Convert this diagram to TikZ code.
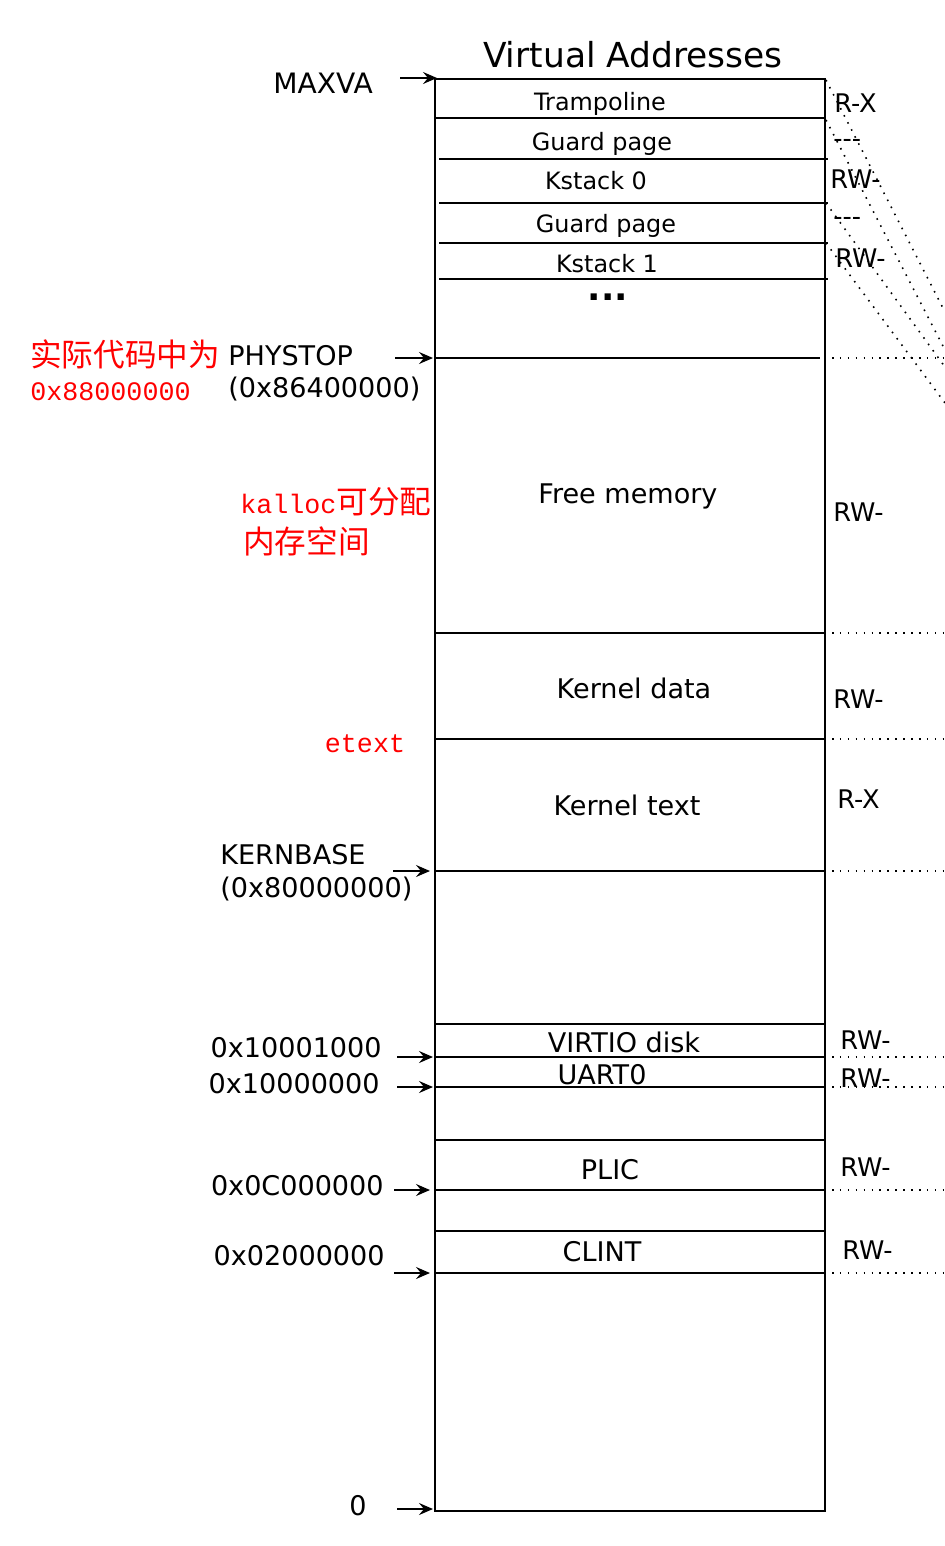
\documentclass[tikz,border=0pt]{standalone}
\usepackage{fontspec}
\setmainfont{DejaVu Sans}
\newfontfamily\cjk{Noto Sans CJK SC}
\newfontfamily\redmono{Liberation Mono}
\usetikzlibrary{arrows.meta,positioning,calc}

\begin{document}
\begin{tikzpicture}[x=0.02cm, y=-0.02cm, font=\fontsize{15.4}{18}\selectfont,
  lab/.style={anchor=base, inner sep=0pt},
  small/.style={lab, font=\fontsize{13.6}{16}\selectfont},
  perm/.style={anchor=base west, inner sep=0pt, font=\fontsize{14.6}{17}\selectfont},
  cjknote/.style={anchor=base west, inner sep=0pt, text=red, font=\fontsize{18}{22}\selectfont\cjk},
  mononote/.style={anchor=base west, inner sep=0pt, text=red, font=\fontsize{15.2}{18}\selectfont\redmono},
  addr/.style={line width=0.9pt, -{Stealth[length=2.8mm, width=2.4mm, inset=1mm]}},
  sep/.style={line width=1.2pt},
  dots/.style={line width=0.9pt, dash pattern=on 0.9pt off 3.6pt}]

  \useasboundingbox (0,0) rectangle (945,1546);

  % address space column
  \draw[line width=1.6pt] (435,79) rectangle (825,1511);
  \foreach \y/\xa/\xb in {118/435/825, 159/439/828, 203/439/828, 243/439/828, 279/439/828,
      358/435/820, 633/435/825, 739/435/825, 871/435/825, 1024/435/825, 1057/435/825,
      1087/435/825, 1140/435/825, 1190/435/825, 1231/435/825, 1273/435/825}
    \draw[sep] (\xa,\y) -- (\xb,\y);

  % dotted mapping lines
  \foreach \y in {358, 633, 739, 871, 1057, 1087, 1190, 1273}
    \draw[dots] (832,\y) -- (945,\y);
  \foreach \ya/\yb in {80/312, 120/350, 203/367, 243/403}
    \draw[dots] (826,\ya) -- (945,\yb);

  \node[lab, font=\fontsize{19.6}{23}\selectfont] (title) at (633,67) {Virtual Addresses};

  % regions
  \foreach \x/\y/\lab [count=\i] in {600/110/Trampoline, 602/150/Guard page, 596/189/Kstack 0,
      606/232/Guard page, 607/272/Kstack 1}
    \node[small] (top\i) at (\x,\y) {\lab};
  \node[lab, text height=0.15em, text depth=0pt, font=\fontsize{20}{24}\selectfont\bfseries] (more) at (608,300) {...};
  \foreach \x/\y/\lab [count=\i] in {628/503/Free memory, 634/698/Kernel data, 627/815/Kernel text,
      624/1052/VIRTIO disk, 602/1084/UART0, 610/1179/PLIC, 602/1261/CLINT}
    \node[lab] (reg\i) at (\x,\y) {\lab};

  % permissions
  \foreach \x/\y/\lab [count=\i] in {834/112/R-X, 833/147/-{}-{}-, 830/188/RW-, 833/225/-{}-{}-,
      835/267/RW-, 833/521/RW-, 833/708/RW-, 837/808/R-X, 840/1049/RW-, 840/1087/RW-,
      840/1176/RW-, 842/1259/RW-}
    \node[perm] (perm\i) at (\x,\y) {\lab};

  % addresses
  \node[lab, font=\fontsize{16}{19}\selectfont] (maxva) at (323,93) {MAXVA};
  \node[anchor=base west, inner sep=0pt] (phystop) at (228,365) {PHYSTOP};
  \node[anchor=base west, inner sep=0pt] (phyval) at (228,397) {(0x86400000)};
  \node[anchor=base west, inner sep=0pt] (kernbase) at (220,864) {KERNBASE};
  \node[anchor=base west, inner sep=0pt] (kernval) at (220,897) {(0x80000000)};
  \node[anchor=base east, inner sep=0pt] (virtio) at (382,1057) {0x10001000};
  \node[anchor=base east, inner sep=0pt] (uart) at (380,1093) {0x10000000};
  \node[anchor=base east, inner sep=0pt] (plic) at (384,1195) {0x0C000000};
  \node[anchor=base east, inner sep=0pt] (clint) at (385,1265) {0x02000000};
  \node[lab] (zero) at (358,1515) {0};

  \foreach \n/\xa/\xb/\y in {maxva/400/437/78, phystop/395/433/358, kernbase/393/430/871,
      virtio/397/433/1057, uart/397/433/1087, plic/394/430/1190, clint/394/430/1273,
      zero/397/433/1509} {
    \coordinate (\n-s) at (\xa,\y);
    \coordinate (\n-t) at (\xb,\y);
    \draw[addr] (\n-s) -- (\n-t);
  }

  % notes
  \node[cjknote] (real) at (30,366) {实际代码中为};
  \node[mononote] (realval) at (30,400) {0x88000000};
  \node[cjknote] (kalloc) at (240,513) {{\redmono\fontsize{15.2}{18}\selectfont kalloc}可分配};
  \node[cjknote] (kspace) at (243,553) {内存空间};
  \node[mononote, anchor=base] (etext) at (365,752) {etext};
\end{tikzpicture}
\end{document}
